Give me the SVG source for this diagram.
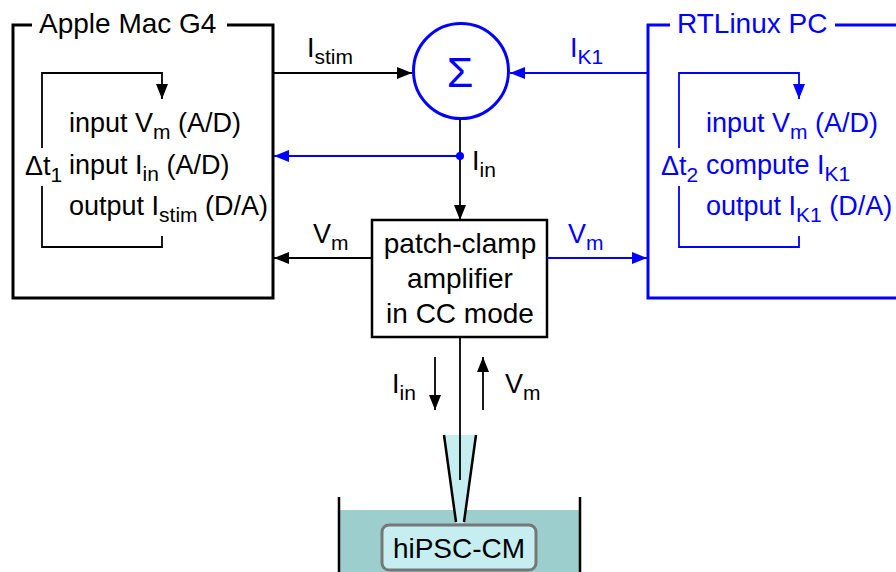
<svg xmlns="http://www.w3.org/2000/svg" width="896" height="572" viewBox="0 0 896 572">
<defs>
<style>
text{font-family:"Liberation Sans",Arial,sans-serif;font-size:27px;fill:#000}
.b{fill:#0000ff}
.t{font-size:28px}
.s{font-size:21px}
.box{fill:none;stroke:#000;stroke-width:3}
.boxb{fill:none;stroke:#0000ff;stroke-width:3}
.ln{fill:none;stroke:#000;stroke-width:1.8}
.lnb{fill:none;stroke:#0000ff;stroke-width:1.8}
</style>
<marker id="ak" markerUnits="userSpaceOnUse" markerWidth="16" markerHeight="14" refX="15" refY="6" orient="auto"><path d="M0,0 L15,6 L0,12 Z" fill="#000"/></marker>
<marker id="ab" markerUnits="userSpaceOnUse" markerWidth="16" markerHeight="14" refX="15" refY="6" orient="auto"><path d="M0,0 L15,6 L0,12 Z" fill="#0000ff"/></marker>
</defs>
<rect width="896" height="572" fill="#fff"/>

<g id="dish">
<rect x="339" y="510" width="241" height="62" fill="#9dcece"/>
<path d="M339,497 V572 M580,497 V572" stroke="#000" stroke-width="2.5" fill="none"/>
</g>

<g id="pipette">
<path d="M444,435 L456,523 L464,523 L476,435 Z" fill="#c6eef0"/>
<path d="M444,435 L456,522 M476,435 L464,522" stroke="#000" stroke-width="2.5" fill="none"/>
</g>

<g id="cell">
<rect x="382" y="525" width="154" height="45" rx="7" fill="#c6eef0" stroke="#777" stroke-width="3"/>
<text x="459" y="558" class="t" text-anchor="middle">hiPSC-CM</text>
</g>

<g id="mac">
<path class="box" d="M32,25 H13 V298 H273 V25 H227"/>
<text x="39" y="33" class="t">Apple Mac G4</text>
<path class="ln" d="M42,148 V73 H162 V99" marker-end="url(#ak)"/>
<path class="ln" d="M42,186 V247 H162 V236"/>
<text x="25" y="175">Δt<tspan class="s" dy="7">1</tspan></text>
<text x="69" y="132">input V<tspan class="s" dy="7">m</tspan><tspan dy="-7"> (A/D)</tspan></text>
<text x="69" y="174">input I<tspan class="s" dy="7">in</tspan><tspan dy="-7"> (A/D)</tspan></text>
<text x="69" y="215">output I<tspan class="s" dy="7">stim</tspan><tspan dy="-7"> (D/A)</tspan></text>
</g>

<g id="rtlinux">
<path class="boxb" d="M670,25 H648 V298 H896 M835,25 H896"/>
<text x="677" y="33" class="t b">RTLinux PC</text>
<path class="lnb" d="M679,148 V73 H799 V99" marker-end="url(#ab)"/>
<path class="lnb" d="M679,186 V247 H799 V236"/>
<text x="661" y="175" class="b">Δt<tspan class="s" dy="7">2</tspan></text>
<text x="706" y="132" class="b">input V<tspan class="s" dy="7">m</tspan><tspan dy="-7"> (A/D)</tspan></text>
<text x="706" y="174" class="b">compute I<tspan class="s" dy="7">K1</tspan></text>
<text x="706" y="215" class="b">output I<tspan class="s" dy="7">K1</tspan><tspan dy="-7"> (D/A)</tspan></text>
</g>

<g id="sum">
<circle cx="461" cy="71" r="47.5" fill="none" stroke="#0000ff" stroke-width="3"/>
<text x="460" y="87" text-anchor="middle" class="b" style="font-size:43px">Σ</text>
</g>

<g id="amplifier">
<rect x="372" y="220" width="175" height="117" fill="#fff" stroke="#000" stroke-width="2.5"/>
<text x="460" y="253" class="t" text-anchor="middle">patch-clamp</text>
<text x="460" y="288" class="t" text-anchor="middle">amplifier</text>
<text x="460" y="323" class="t" text-anchor="middle">in CC mode</text>
</g>

<g id="connectors">
<path class="ln" d="M273,73 H412" marker-end="url(#ak)"/>
<path class="lnb" d="M648,73 H510" marker-end="url(#ab)"/>
<path class="ln" d="M460,119 V220" marker-end="url(#ak)"/>
<path class="lnb" d="M460,156 H274" marker-end="url(#ab)"/>
<circle cx="460" cy="156" r="4" fill="#0000ff"/>
<path class="ln" d="M372,258 H274" marker-end="url(#ak)"/>
<path class="lnb" d="M547,258 H647" marker-end="url(#ab)"/>
<path class="ln" d="M460,337 V480"/>
<path class="ln" d="M435,357 V410" marker-end="url(#ak)"/>
<path class="ln" d="M483,410 V357" marker-end="url(#ak)"/>
<text x="307" y="57">I<tspan class="s" dy="7">stim</tspan></text>
<text x="570" y="57" class="b">I<tspan class="s" dy="7">K1</tspan></text>
<text x="472" y="170">I<tspan class="s" dy="7">in</tspan></text>
<text x="313" y="243">V<tspan class="s" dy="7">m</tspan></text>
<text x="568" y="243" class="b">V<tspan class="s" dy="7">m</tspan></text>
<text x="392" y="393">I<tspan class="s" dy="7">in</tspan></text>
<text x="505" y="393">V<tspan class="s" dy="7">m</tspan></text>
</g>
</svg>
